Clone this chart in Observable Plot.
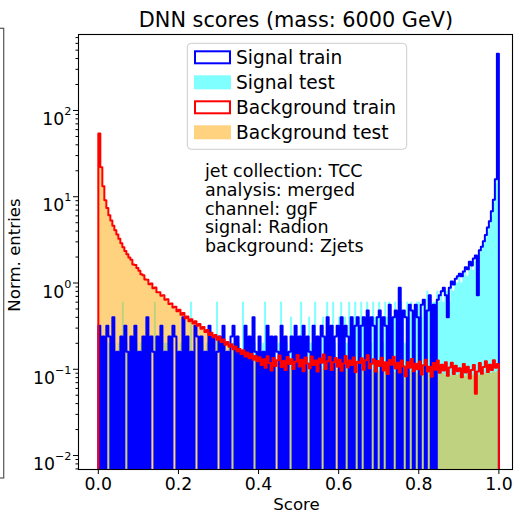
<!DOCTYPE html>
<html><head><meta charset="utf-8">
<script src="https://cdn.jsdelivr.net/npm/d3@7"></script>
<script src="https://cdn.jsdelivr.net/npm/@observablehq/plot@0.6"></script>
<style>
body{margin:0;background:#fff;}
#wrap{position:relative;width:518px;height:513px;overflow:hidden;font-family:"DejaVu Sans",sans-serif;}
</style></head><body><div id="wrap"></div>
<script>
// ---- data (200 bins on [0,1], density-normalised entries) ----
const nBins = 200;
const scoreRange = [0, 1];
const sigTrain = [
0.32,0,0.24,0,0.32,0.24,0,0.4,0,0.16,
0,0.24,0,0.32,0.16,0,0.24,0,0.32,0,
0.16,0,0.24,0,0.4,0,0.24,0.16,0,0.24,
0,0.32,0,0.16,0,0.24,0,0.32,0.24,0,
0.16,0,0.4,0,0.24,0,0.16,0,0.32,0.24,
0,0.24,0,0.16,0,0.32,0,0.24,0,0.16,
0.24,0,0.32,0,0.16,0,0.24,0.32,0,0.24,
0,0.16,0,0.32,0,0.24,0,0.4,0.16,0,
0.24,0,0.16,0,0.32,0,0.24,0,0.24,0.16,
0,0.32,0,0.24,0,0.16,0.24,0,0.32,0,
0.24,0,0.32,0,0.24,0.16,0,0.32,0,0.24,
0,0.32,0.24,0,0.4,0,0.32,0,0.24,0.32,
0,0.4,0,0.32,0.24,0,0.4,0,0.32,0.4,
0,0.32,0.4,0,0.48,0,0.4,0.32,0,0.4,
0.48,0,0.4,0.32,0,0.56,0,0.4,0.48,0,
0.88,0,0.48,0.4,0,0.56,0.48,0,0.56,0.4,
0,0.56,0.64,0,0.48,0.72,0,0.56,0,0.64,
0.72,0.8,0.88,0.72,0.4,0.88,1.04,0.96,1.12,1.2,
1.28,1.2,1.36,1.52,1.44,1.76,1.6,1.92,2.08,0.72,
2.4,2.64,3.04,3.6,4.4,5.2,6.8,9.2,16,455];
const sigTest = [
0,0.2,0,0.2,0,0.2,0,0,0.2,0,
0.2,0,0.6,0,0.2,0,0.2,0,0,0.2,
0,0.2,0,0.2,0,0.2,0,0,0.6,0,
0.2,0,0,0.2,0.2,0,0.2,0,0,0.2,
0,0.2,0,0.2,0,0,0.6,0,0.2,0,
0.2,0,0.2,0,0.2,0,0,0.2,0,0.6,
0,0.2,0,0.2,0,0.2,0,0.2,0,0.2,
0.2,0,0.6,0,0.2,0,0.2,0,0.2,0,
0.2,0,0.2,0.6,0,0.2,0,0.2,0.2,0,
0.2,0.6,0,0.2,0.2,0,0.4,0,0.2,0.2,
0,0.6,0.2,0.2,0,0.4,0.2,0,0.6,0.2,
0.2,0,0.4,0.2,0.6,0,0.2,0.6,0.2,0,
0.4,0.6,0,0.4,0.2,0.6,0.4,0,0.6,0.4,
0.2,0.6,0.4,0,0.6,0.4,0.2,0.6,0.4,0.4,
0.6,0.4,0.2,0.6,0.4,0.6,0,0.4,0.6,0.4,
0.4,0.6,0.4,0.2,0.6,0.4,0.6,0.4,0.4,0.6,
0.6,0.4,0.6,0.4,0.8,0.6,0.4,0.6,0.6,0.8,
0.6,0.8,0.6,0.8,0.8,0.6,1.0,0.8,1.0,1.0,
1.2,1.0,1.2,1.4,1.2,1.4,1.6,1.4,1.8,1.8,
2.2,2.4,2.8,3.2,3.8,4.6,6.0,8.4,14,450];
const bkgTrain = [
54,22,13.2,9.1,7.4,6.1,5.3,4.6,4.1,3.65,
3.25,2.9,2.6,2.35,2.15,1.98,1.86,1.64,1.62,1.49,
1.39,1.26,1.23,1.1,1.09,0.97,0.99,0.87,0.89,0.78,
0.78,0.71,0.72,0.64,0.65,0.57,0.58,0.52,0.53,0.47,
0.49,0.43,0.45,0.39,0.41,0.36,0.38,0.34,0.36,0.32,
0.335,0.295,0.31,0.27,0.285,0.25,0.265,0.235,0.25,0.22,
0.238,0.207,0.222,0.192,0.207,0.182,0.195,0.171,0.184,0.161,
0.172,0.15,0.166,0.141,0.156,0.134,0.15,0.129,0.143,0.124,
0.138,0.112,0.131,0.104,0.142,0.118,0.097,0.135,0.109,0.127,
0.144,0.106,0.125,0.098,0.139,0.115,0.131,0.101,0.122,0.146,
0.108,0.129,0.095,0.137,0.117,0.103,0.141,0.112,0.126,0.094,
0.133,0.119,0.148,0.101,0.124,0.139,0.098,0.121,0.135,0.107,
0.129,0.096,0.117,0.143,0.105,0.126,0.112,0.137,0.093,0.122,
0.118,0.134,0.099,0.127,0.145,0.103,0.116,0.131,0.094,0.125,
0.109,0.136,0.097,0.121,0.088,0.128,0.113,0.14,0.102,0.119,
0.092,0.126,0.108,0.083,0.121,0.104,0.132,0.095,0.116,0.1,
0.123,0.087,0.111,0.129,0.094,0.107,0.082,0.118,0.099,0.126,
0.091,0.113,0.097,0.121,0.084,0.105,0.119,0.088,0.11,0.095,
0.103,0.081,0.115,0.092,0.107,0.078,0.098,0.112,0.052,0.094,
0.118,0.089,0.106,0.124,0.093,0.113,0.098,0.127,0.104,0.115];
const bkgTest = [
52,21,12.8,9.0,7.2,6.0,5.2,4.5,4.0,3.6,
3.2,2.85,2.55,2.32,2.12,1.95,1.8,1.66,1.55,1.44,
1.35,1.27,1.19,1.12,1.05,0.99,0.94,0.89,0.84,0.8,
0.76,0.72,0.68,0.65,0.62,0.58,0.55,0.53,0.5,0.48,
0.46,0.44,0.42,0.4,0.385,0.37,0.355,0.345,0.335,0.325,
0.315,0.3,0.29,0.28,0.27,0.26,0.25,0.242,0.235,0.228,
0.22,0.212,0.206,0.2,0.194,0.188,0.182,0.176,0.171,0.166,
0.161,0.157,0.153,0.149,0.145,0.141,0.138,0.135,0.132,0.129,
0.127,0.124,0.122,0.12,0.118,0.116,0.115,0.113,0.112,0.111,
0.11,0.108,0.112,0.107,0.109,0.111,0.106,0.108,0.105,0.11,
0.107,0.104,0.109,0.103,0.106,0.108,0.102,0.105,0.107,0.101,
0.104,0.106,0.1,0.105,0.103,0.099,0.104,0.102,0.106,0.1,
0.103,0.098,0.102,0.105,0.099,0.101,0.097,0.103,0.1,0.098,
0.101,0.097,0.1,0.096,0.102,0.098,0.095,0.099,0.097,0.1,
0.095,0.098,0.094,0.097,0.093,0.096,0.099,0.094,0.092,0.096,
0.093,0.095,0.091,0.094,0.092,0.09,0.095,0.091,0.093,0.089,
0.092,0.09,0.088,0.093,0.089,0.091,0.087,0.09,0.088,0.086,
0.089,0.087,0.09,0.085,0.088,0.086,0.084,0.089,0.087,0.085,
0.088,0.084,0.086,0.083,0.087,0.085,0.082,0.086,0.084,0.088,
0.085,0.089,0.087,0.091,0.088,0.092,0.09,0.094,0.091,0.095];

const xTicks = [0, 0.2, 0.4, 0.6, 0.8, 1.0];
const yMajor = [1e-2, 1e-1, 1e0, 1e1, 1e2];
const yMinor = [7e-3,8e-3,9e-3, 2e-2,3e-2,4e-2,5e-2,6e-2,7e-2,8e-2,9e-2,
  0.2,0.3,0.4,0.5,0.6,0.7,0.8,0.9, 2,3,4,5,6,7,8,9, 20,30,40,50,60,70,80,90, 200,300,400,500,600,700];
const series = [
  {name: "Signal train", kind: "line", color: "#0000ff", values: sigTrain},
  {name: "Signal test", kind: "fill", color: "#00ffff", values: sigTest},
  {name: "Background train", kind: "line", color: "#ff0000", values: bkgTrain},
  {name: "Background test", kind: "fill", color: "#ffa500", values: bkgTest}
];
const infoLines = ["jet collection: TCC", "analysis: merged", "channel: ggF", "signal: Radion", "background: Zjets"];
const title = "DNN scores (mass: 6000 GeV)";

// ---- build step points ----
const FLOOR = 1e-4; // empty bins drop below the visible log range
function steps(vals) {
  const w = (scoreRange[1] - scoreRange[0]) / vals.length;
  const pts = [{x: scoreRange[0], y: FLOOR}];
  vals.forEach((v, i) => pts.push({x: scoreRange[0] + i * w, y: v > 0 ? v : FLOOR}));
  pts.push({x: scoreRange[1], y: FLOOR});
  return pts;
}
const S = Object.fromEntries(series.map(s => [s.name, steps(s.values)]));

const W = 518, H = 513;
const mL = 78, mR = 6, mT = 34, mB = 44;

const marks = [
  Plot.areaY(S["Signal test"], {x: "x", y1: FLOOR, y2: "y", curve: "step-after", fill: "#00ffff", fillOpacity: 0.5, clip: true}),
  Plot.areaY(S["Background test"], {x: "x", y1: FLOOR, y2: "y", curve: "step-after", fill: "#ffa500", fillOpacity: 0.5, clip: true}),
  Plot.line(S["Signal train"], {x: "x", y: "y", curve: "step-after", stroke: "#0000ff", strokeWidth: 2, clip: true}),
  Plot.line(S["Background train"], {x: "x", y: "y", curve: "step-after", stroke: "#ff0000", strokeWidth: 2, clip: true}),
  Plot.axisX({ticks: xTicks, tickFormat: d3.format(".1f"), tickSize: 5, tickPadding: 3, label: null}),
  Plot.axisY({ticks: yMajor, tickFormat: d => "10^" + Math.round(Math.log10(d)), tickSize: 5, tickPadding: 2, label: null}),
  Plot.axisY({ticks: yMinor, tickFormat: () => "", tickSize: 2.5, label: null}),
  Plot.frame({stroke: "black", strokeWidth: 1.1})
];

const chart = Plot.plot({
  width: W, height: H,
  marginLeft: mL, marginRight: mR, marginTop: mT, marginBottom: mB,
  style: {fontFamily: "DejaVu Sans", fontSize: "17.3px", color: "black", background: "white", overflow: "visible"},
  x: {domain: [-0.0495, 1.034]},
  y: {type: "log", domain: [0.00689, 760]},
  marks
});
document.getElementById("wrap").appendChild(chart);

const svg = d3.select(chart);
// superscript exponents on the log axis
svg.selectAll('g[aria-label="y-axis tick label"] text').each(function () {
  const t = d3.select(this);
  const s = t.text();
  if (!s.startsWith("10^")) return;
  const e = s.slice(3).replace("-", "\u2212");
  t.text("10").attr("dy", "0.53em");
  t.append("tspan").attr("dy", "-0.9em").attr("font-size", "0.65em").text(e);
});

const cx = (mL + (W - mR)) / 2;
// title & axis labels
svg.append("text").attr("x", cx + 1).attr("y", 27.3).attr("text-anchor", "middle")
  .attr("font-size", 20.8).attr("fill", "black").text(title);
svg.append("text").attr("x", cx + 1.5).attr("y", 510).attr("text-anchor", "middle")
  .attr("font-size", 16.6).attr("fill", "black").text("Score");
svg.append("text").attr("transform", "translate(20,255) rotate(-90)").attr("text-anchor", "middle")
  .attr("font-size", 16.6).attr("fill", "black").text("Norm. entries");

// stray frame edge from the neighbouring panel
svg.append("rect").attr("x", -20).attr("y", 28.3).attr("width", 23.7).attr("height", 449.7)
  .attr("fill", "none").attr("stroke", "#555").attr("stroke-width", 1.2);

// legend
const lg = svg.append("g").attr("text-anchor", "start");
lg.append("rect").attr("x", 187.3).attr("y", 43.3).attr("width", 219.4).attr("height", 106)
  .attr("rx", 4).attr("fill", "white").attr("fill-opacity", 0.8).attr("stroke", "#cccccc").attr("stroke-width", 1);
series.forEach((s, i) => {
  const cy = 57.3 + i * 25;
  if (s.kind === "line") {
    lg.append("rect").attr("x", 195).attr("y", cy - 6).attr("width", 35).attr("height", 12)
      .attr("fill", "none").attr("stroke", s.color).attr("stroke-width", 2);
  } else {
    lg.append("rect").attr("x", 194).attr("y", cy - 7).attr("width", 37).attr("height", 14)
      .attr("fill", s.color).attr("fill-opacity", 0.5);
  }
  lg.append("text").attr("x", 236).attr("y", cy + 6.3).attr("text-anchor", "start")
    .attr("font-size", 18.6).attr("fill", "black").text(s.name);
});

// info text
const info = svg.append("text").attr("text-anchor", "start").attr("font-size", 17.5).attr("fill", "black");
infoLines.forEach((l, i) => {
  info.append("tspan").attr("x", 205).attr("y", 177 + i * 18.75).text(l);
});
</script>
</body></html>
